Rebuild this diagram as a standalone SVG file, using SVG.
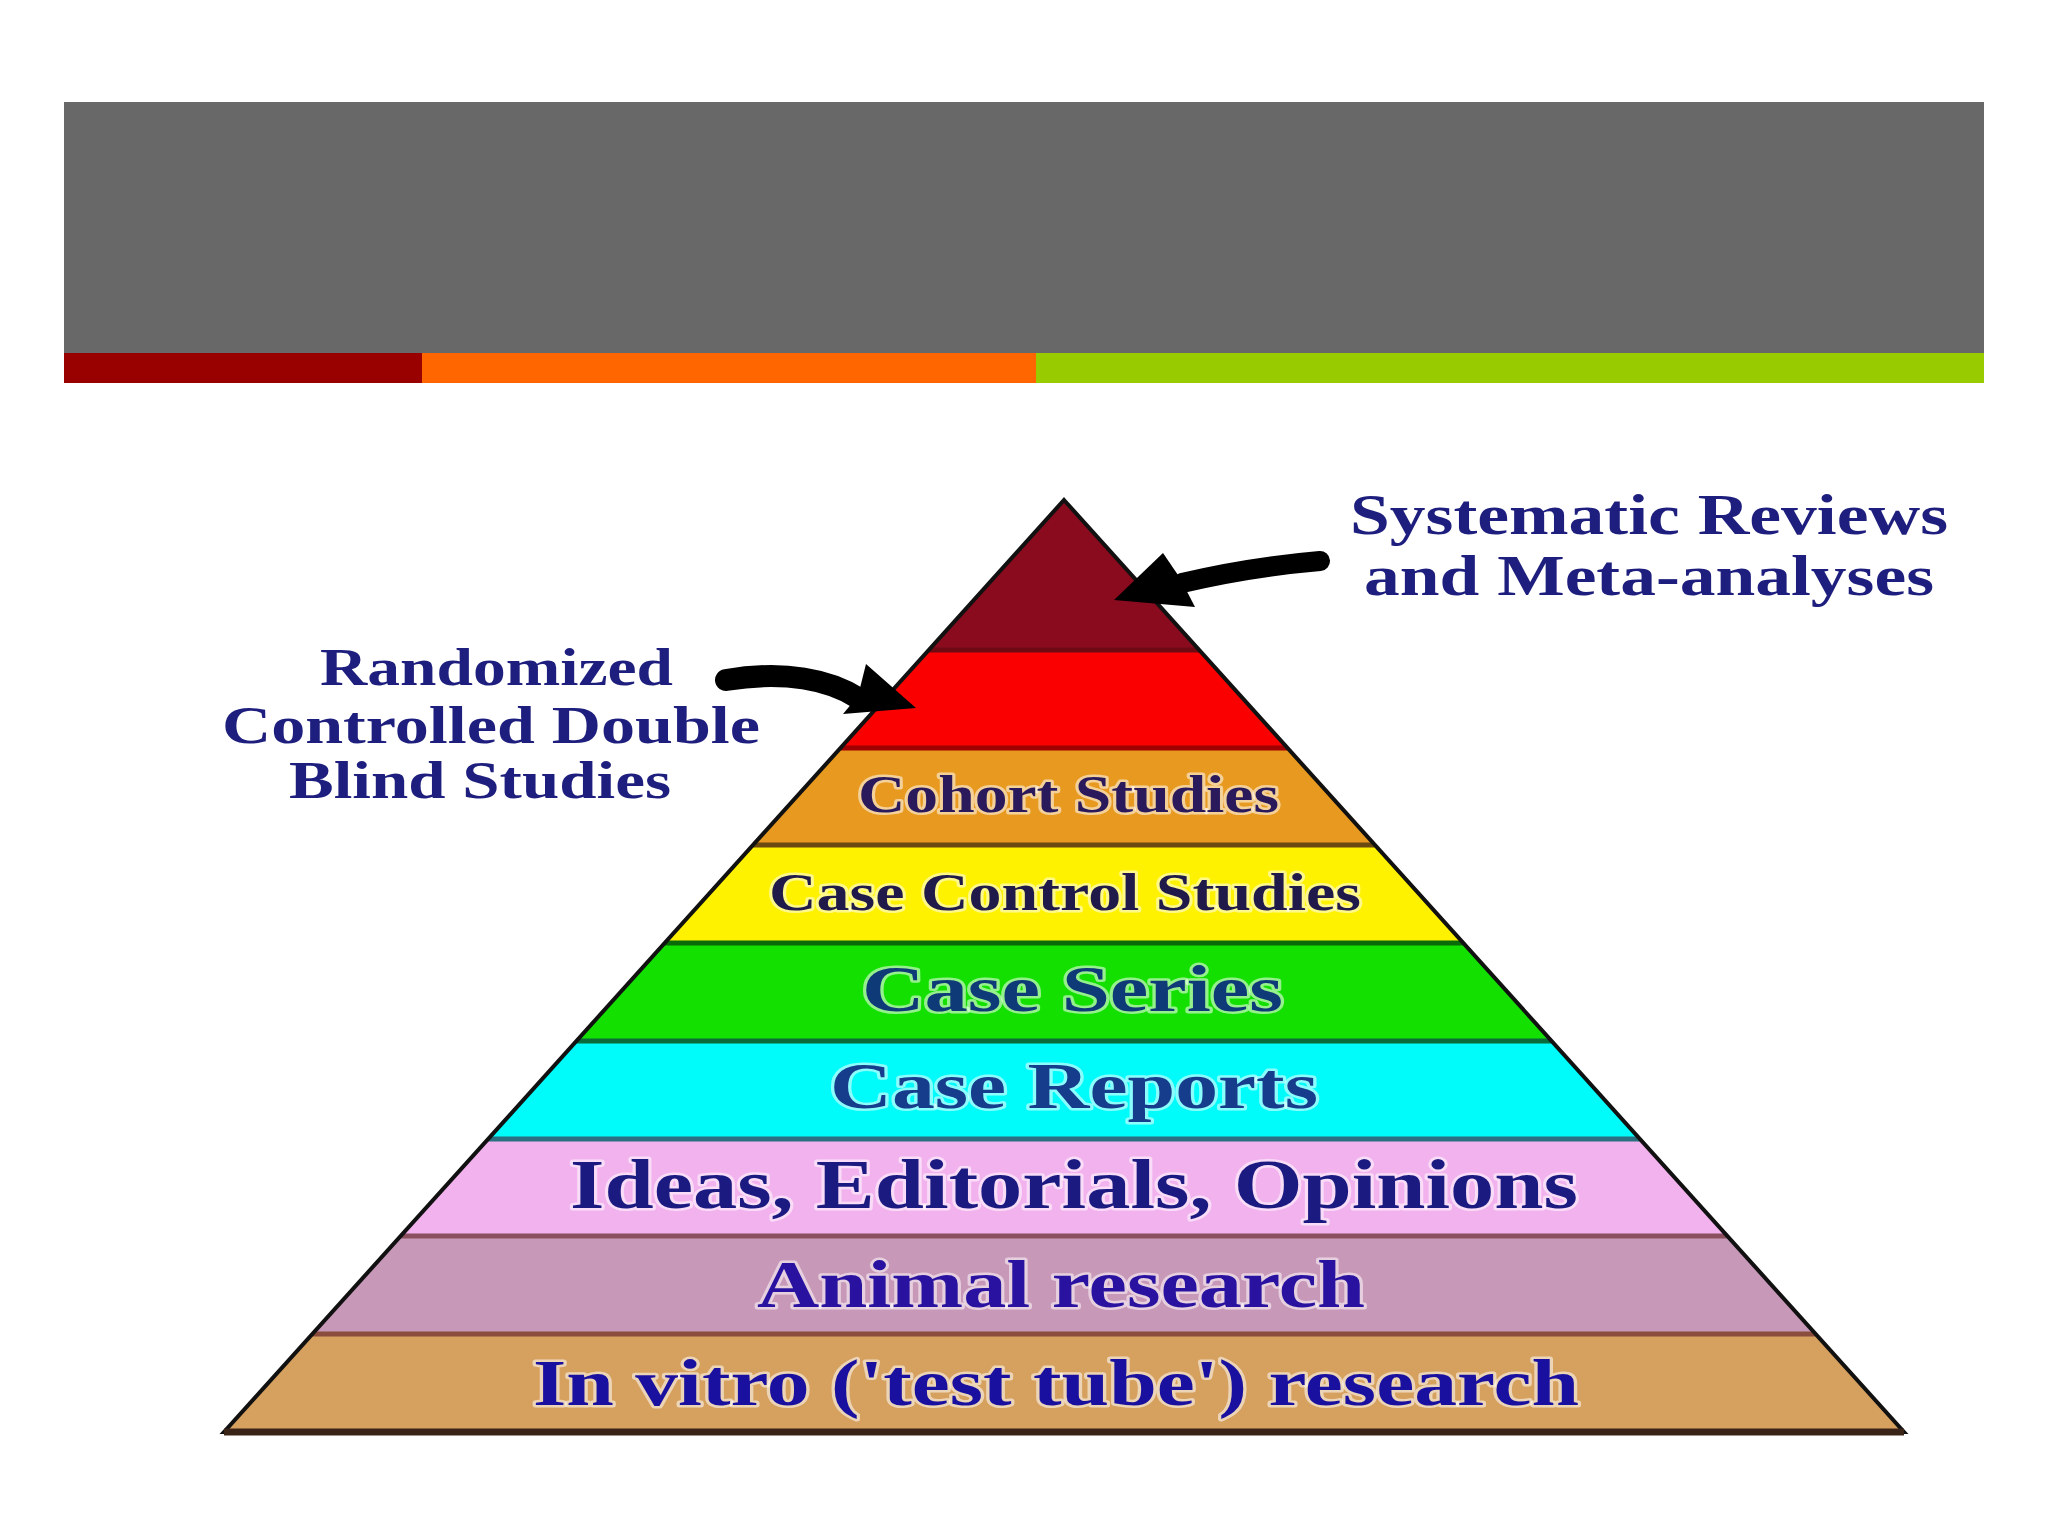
<svg xmlns="http://www.w3.org/2000/svg" width="2048" height="1536" viewBox="0 0 2048 1536">
<style>
.lbl{font-family:"Liberation Serif","Times New Roman",serif;font-weight:bold}
.glow{stroke:#ffffff;stroke-opacity:0.55;stroke-width:5;paint-order:stroke;stroke-linejoin:round}
.side{fill:#1e1e7e}
.sep{stroke-width:5;fill:none}
.arrow{fill:none;stroke:#000;stroke-linecap:round}
</style>
<rect width="2048" height="1536" fill="#ffffff"/>
<g id="header">
<rect x="64" y="102" width="1920" height="251" fill="#686868"/>
<rect x="64" y="353" width="358" height="30" fill="#990000"/>
<rect x="422" y="353" width="614" height="30" fill="#ff6600"/>
<rect x="1036" y="353" width="948" height="30" fill="#99cc00"/>
</g>
<g id="pyramid">
<g id="band-systematic"><polygon points="1064,500 1199.2,650 928.8,650" fill="#8b0b1e"/></g>
<g id="band-rct"><polygon points="928.8,650 1199.2,650 1287.5,748 840.5,748" fill="#fb0000"/></g>
<g id="band-cohort"><polygon points="840.5,748 1287.5,748 1375,845 753,845" fill="#e8991f"/>
<text class="lbl glow" x="858" y="812" font-size="52" textLength="421" lengthAdjust="spacingAndGlyphs" fill="#2a1a5c">Cohort Studies</text></g>
<g id="band-casecontrol"><polygon points="753,845 1375,845 1463.3,943 664.7,943" fill="#fff200"/>
<text class="lbl glow" x="769" y="910" font-size="53" textLength="592" lengthAdjust="spacingAndGlyphs" fill="#201a4a">Case Control Studies</text></g>
<g id="band-caseseries"><polygon points="664.7,943 1463.3,943 1551.6,1041 576.4,1041" fill="#14e000"/>
<text class="lbl glow" x="862" y="1011" font-size="66" textLength="421" lengthAdjust="spacingAndGlyphs" fill="#0f3a78">Case Series</text></g>
<g id="band-casereports"><polygon points="576.4,1041 1551.6,1041 1639.9,1139 488.1,1139" fill="#00fbfb"/>
<text class="lbl glow" x="830" y="1108" font-size="65" textLength="488" lengthAdjust="spacingAndGlyphs" fill="#163c8c">Case Reports</text></g>
<g id="band-ideas"><polygon points="488.1,1139 1639.9,1139 1727.4,1236 400.6,1236" fill="#f2b2ee"/>
<text class="lbl glow" x="570" y="1208" font-size="70" textLength="1008" lengthAdjust="spacingAndGlyphs" fill="#1a1a80">Ideas, Editorials, Opinions</text></g>
<g id="band-animal"><polygon points="400.6,1236 1727.4,1236 1815.7,1334 312.3,1334" fill="#c898b8"/>
<text class="lbl glow" x="757" y="1307" font-size="68" textLength="608" lengthAdjust="spacingAndGlyphs" fill="#2a12a0">Animal research</text></g>
<g id="band-invitro"><polygon points="312.3,1334 1815.7,1334 1904,1432 224,1432" fill="#d6a05e"/>
<text class="lbl glow" x="533" y="1405" font-size="65" textLength="1046" lengthAdjust="spacingAndGlyphs" fill="#1a10a0">In vitro ('test tube') research</text></g>
<g id="separators">
<line class="sep" x1="928.8" y1="650" x2="1199.2" y2="650" stroke="#6e0a14" stroke-width="3"/>
<line class="sep" x1="840.5" y1="748" x2="1287.5" y2="748" stroke="#a00000" stroke-width="4"/>
<line class="sep" x1="753" y1="845" x2="1375" y2="845" stroke="#6a4a10" stroke-width="3"/>
<line class="sep" x1="664.7" y1="943" x2="1463.3" y2="943" stroke="#0a6a0a"/>
<line class="sep" x1="576.4" y1="1041" x2="1551.6" y2="1041" stroke="#0a6a3a"/>
<line class="sep" x1="488.1" y1="1139" x2="1639.9" y2="1139" stroke="#2a7080"/>
<line class="sep" x1="400.6" y1="1236" x2="1727.4" y2="1236" stroke="#8a5060"/>
<line class="sep" x1="312.3" y1="1334" x2="1815.7" y2="1334" stroke="#8a4c3c" stroke-width="6"/>
</g>
<polygon points="1064,500 1904,1432 224,1432" fill="none" stroke="#111" stroke-width="4" stroke-linejoin="miter"/>
<line x1="224" y1="1432" x2="1904" y2="1432" stroke="#3a2418" stroke-width="7"/>
</g>
<g id="label-rct" class="lbl side">
<text x="320" y="685" font-size="53" textLength="353" lengthAdjust="spacingAndGlyphs">Randomized</text>
<text x="222" y="743" font-size="53" textLength="538" lengthAdjust="spacingAndGlyphs">Controlled Double</text>
<text x="289" y="798" font-size="53" textLength="382" lengthAdjust="spacingAndGlyphs">Blind Studies</text>
</g>
<g id="label-systematic" class="lbl side">
<text x="1350" y="534" font-size="56" textLength="598" lengthAdjust="spacingAndGlyphs">Systematic Reviews</text>
<text x="1364" y="595" font-size="56" textLength="570" lengthAdjust="spacingAndGlyphs">and Meta-analyses</text>
</g>
<g id="connectors">
<g id="arrow-systematic">
<path class="arrow" d="M1320,561 Q1250,567 1182,583" stroke-width="20"/>
<polygon points="1114,600 1163,553 1180,578 1195,607" fill="#000"/>
</g>
<g id="arrow-rct">
<path class="arrow" d="M726,680 C785,670 830,680 858,698" stroke-width="22"/>
<polygon points="916,708 866,664 858,696 843,714" fill="#000"/>
</g>
</g>
</svg>
